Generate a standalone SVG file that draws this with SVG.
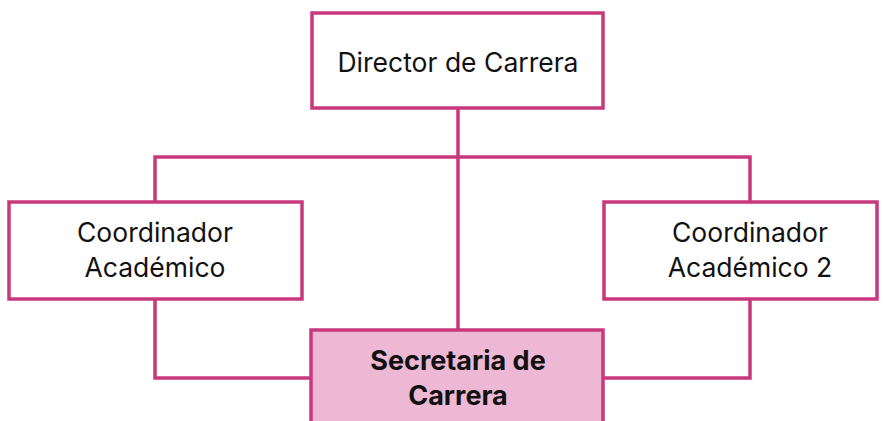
<svg xmlns="http://www.w3.org/2000/svg" width="885" height="421" viewBox="0 0 885 421">
<style>
.box{fill:#fff;stroke:#C8387C;stroke-width:3.5}
.hl{fill:#EDB8D4;stroke:#C8387C;stroke-width:3.5}
.con{fill:none;stroke:#C8387C;stroke-width:3.5}
text{font-family:Inter,"Liberation Sans",Arial,sans-serif;font-size:26.5px;fill:#111;text-anchor:middle}
.b{font-weight:bold;font-size:27px}
</style>
<rect width="885" height="421" fill="#fff"/>
<g id="connectors">
<path class="con" d="M458 108 V330"/>
<path class="con" d="M155 202 V157 H750 V202"/>
<path class="con" d="M155 299 V378 H311"/>
<path class="con" d="M750 299 V378 H603"/>
</g>
<g id="director">
<rect class="box" x="312" y="13" width="291" height="95"/>
<text x="458" y="72">Director de Carrera</text>
</g>
<g id="coord1">
<rect class="box" x="9" y="202" width="293" height="97"/>
<text x="155" y="242">Coordinador</text>
<text x="155" y="277">Académico</text>
</g>
<g id="coord2">
<rect class="box" x="604" y="202" width="273" height="97"/>
<text x="750" y="242">Coordinador</text>
<text x="750" y="277">Académico 2</text>
</g>
<g id="secretaria">
<rect class="hl" x="311" y="330" width="292" height="100"/>
<text class="b" x="458" y="370">Secretaria de</text>
<text class="b" x="458" y="405">Carrera</text>
</g>
</svg>
